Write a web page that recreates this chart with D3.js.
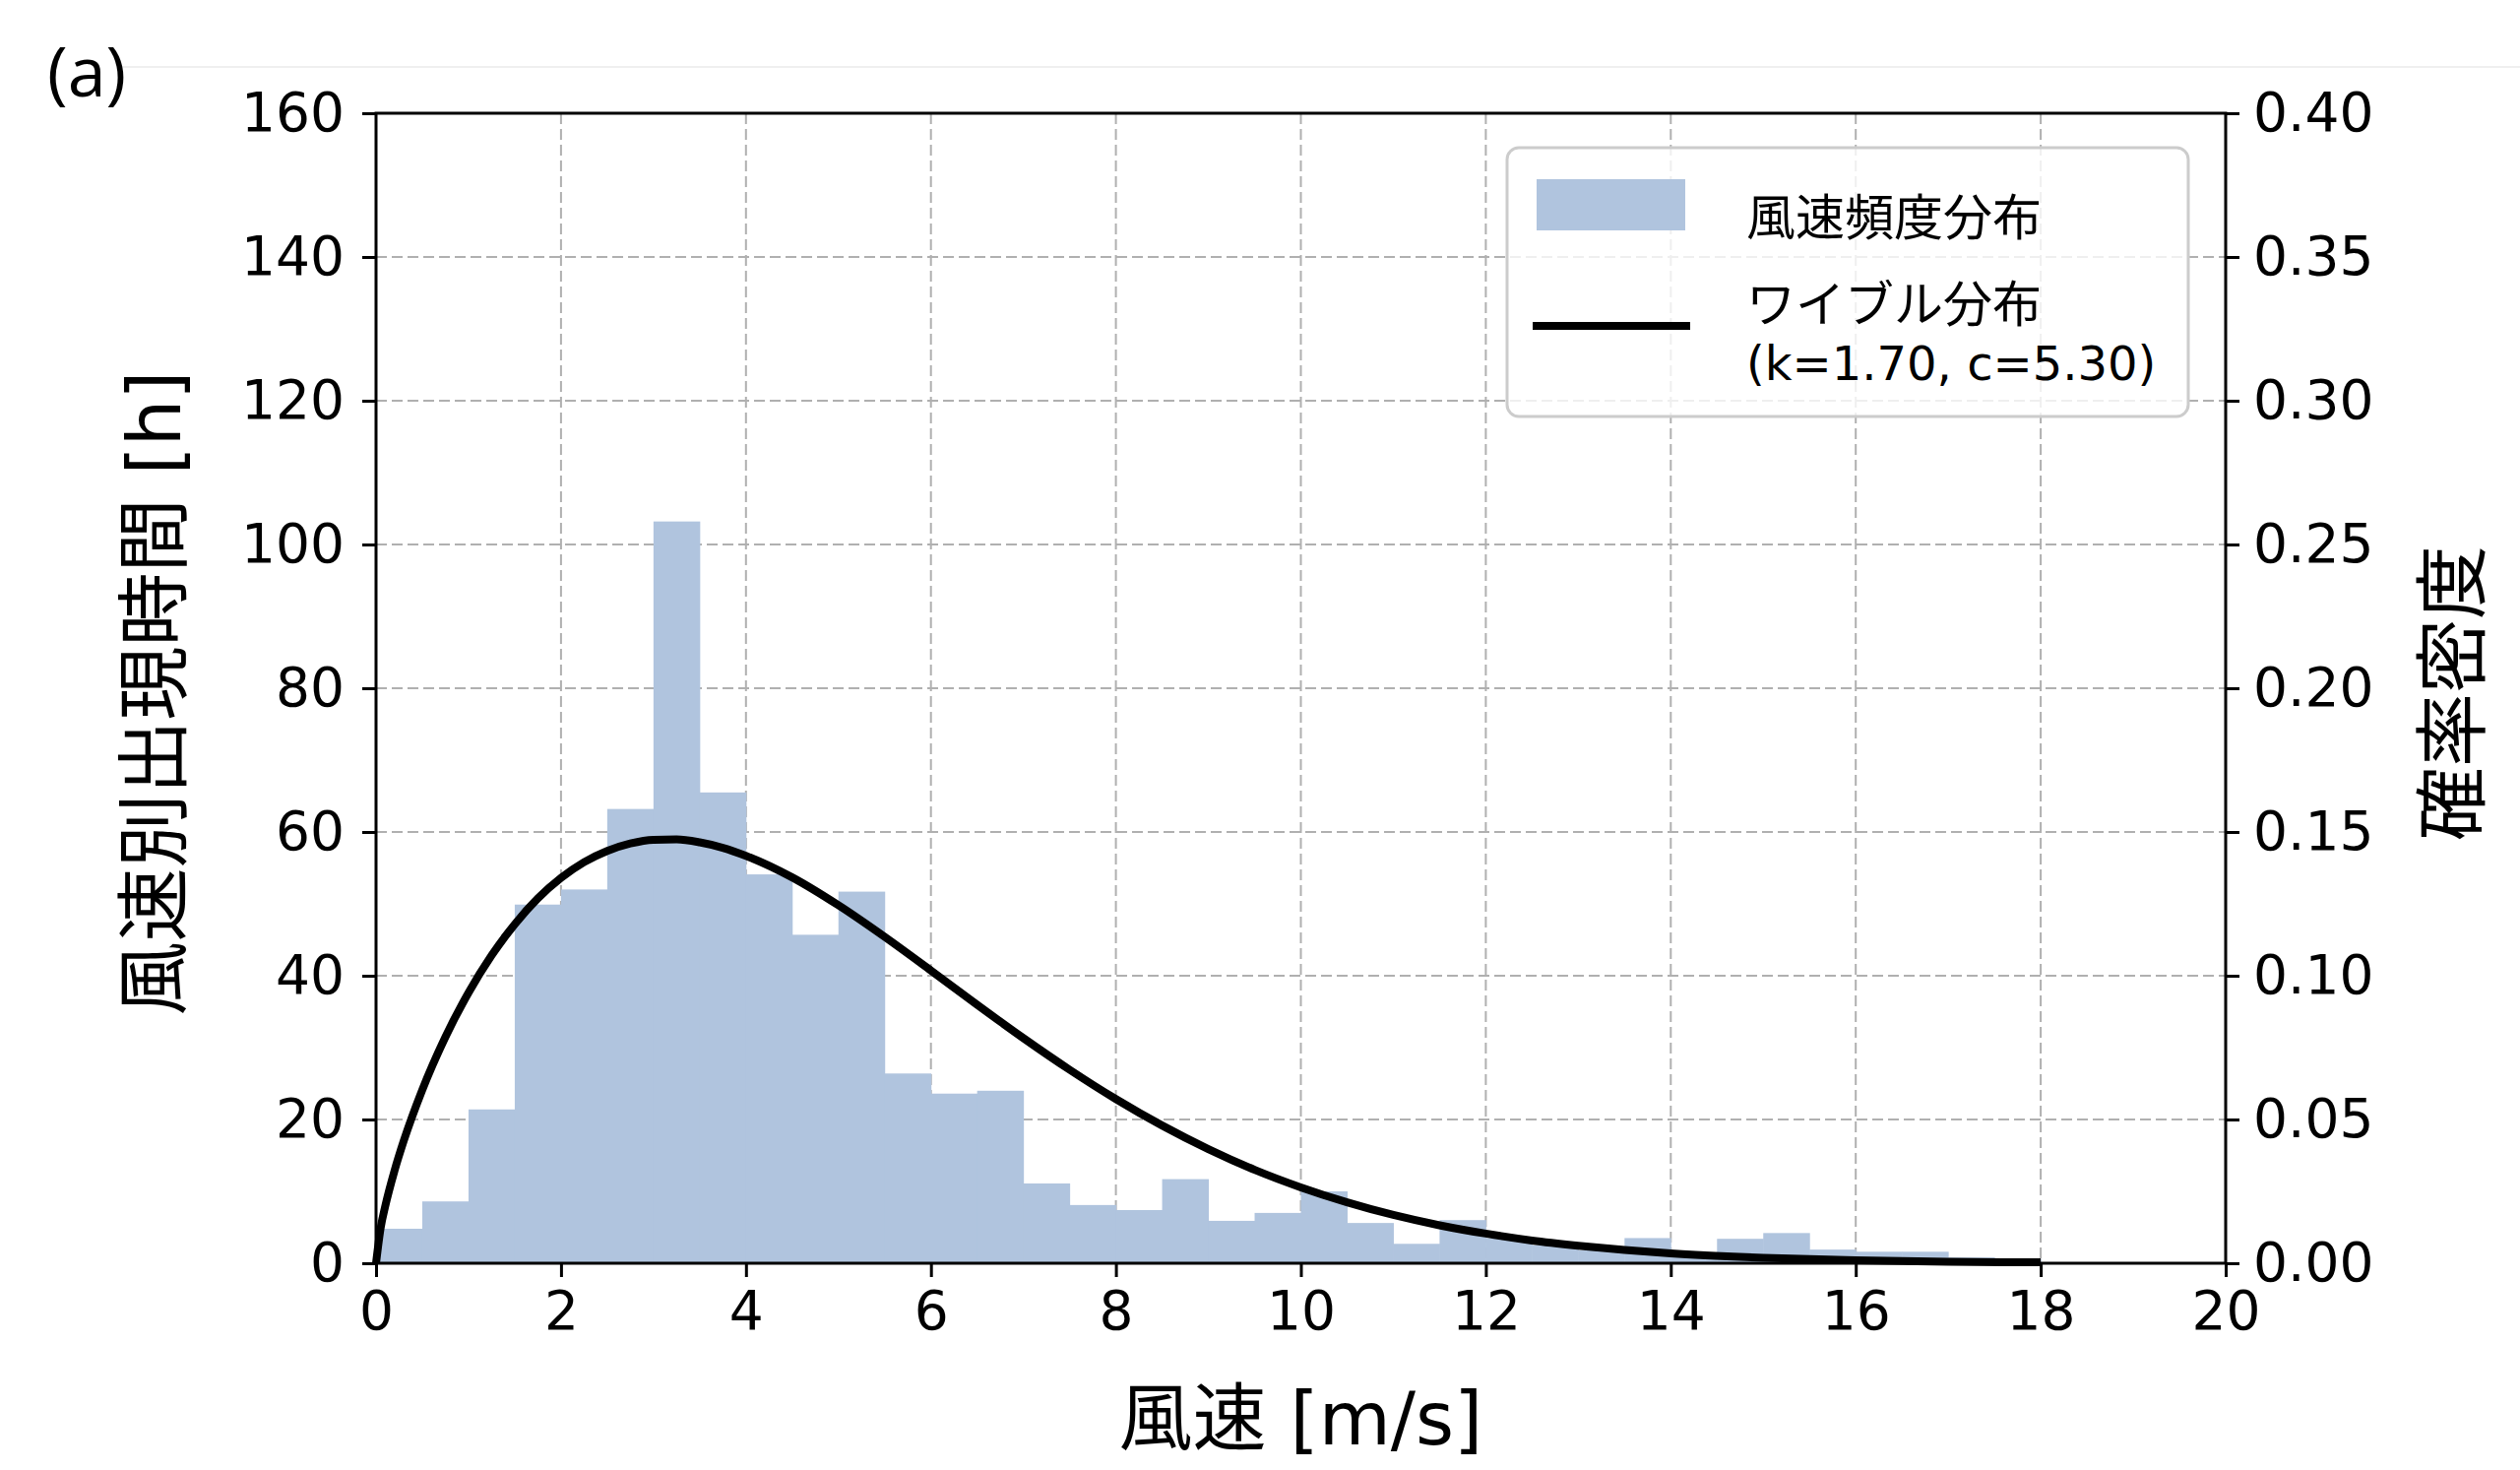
<!DOCTYPE html>
<html>
<head>
<meta charset="utf-8">
<script src="https://cdn.jsdelivr.net/npm/d3@7"></script>
<style>
  body { margin: 0; background: #fff; }
  svg { display: block; }
  text { font-family: "DejaVu Sans", "Noto Sans CJK JP", sans-serif; fill: #000; }
</style>
</head>
<body>
<svg id="chart" width="2560" height="1493"></svg>
<script>
// ---- data ----
const binLeft = [0, 0.5, 1, 1.5, 2, 2.5, 3, 3.5, 4, 4.5, 5, 5.5, 6, 6.5, 7, 7.5, 8, 8.5,
                 9, 9.5, 10, 10.5, 11, 11.5, 12, 12.5, 13, 13.5, 14, 14.5, 15, 15.5, 16, 16.5, 17, 17.5];
const binWidth = 0.5;
const hours = [4.8, 8.6, 21.4, 49.9, 52.0, 63.2, 103.2, 65.5, 54.1, 45.7, 51.7, 26.4, 23.6, 24.0,
               11.1, 8.1, 7.4, 11.7, 5.9, 7.0, 10.0, 5.6, 2.7, 6.0, 3.5, 2.5, 1.8, 3.5, 1.5, 3.4,
               4.2, 1.9, 1.6, 1.6, 0.8, 0.6];
const curveX = [0, 0.05, 0.1, 0.2, 0.3, 0.5, 0.75, 1, 1.25, 1.5, 1.75, 2, 2.25, 2.5, 2.75, 3, 3.25,
                3.5, 3.75, 4, 4.5, 5, 5.5, 6, 6.5, 7, 7.5, 8, 8.5, 9, 9.5, 10, 10.5, 11, 11.5, 12,
                12.5, 13, 13.5, 14, 15, 16, 17, 18];
const curveDensity = [0, 0.0123, 0.0199, 0.0322, 0.0426, 0.0603, 0.0787, 0.0941, 0.1071, 0.1179,
                0.1269, 0.1340, 0.1395, 0.1434, 0.1460, 0.1473, 0.1474, 0.1464, 0.1445, 0.1417,
                0.1342, 0.1245, 0.1135, 0.1018, 0.0899, 0.0783, 0.0673, 0.0571, 0.0479, 0.0397,
                0.0325, 0.0264, 0.0212, 0.0168, 0.0132, 0.0103, 0.0079, 0.0061, 0.0046, 0.0034,
                0.0019, 0.0010, 0.0005, 0.0003];
const xTicks = [0, 2, 4, 6, 8, 10, 12, 14, 16, 18, 20];
const yLeftTicks = [0, 20, 40, 60, 80, 100, 120, 140, 160];
const yRightTicks = [0, 0.05, 0.10, 0.15, 0.20, 0.25, 0.30, 0.35, 0.40];
const labels = {
  panel: "(a)",
  x: "風速 [m/s]",
  yLeft: "風速別出現時間 [h]",
  yRight: "確率密度",
  legendHist: "風速頻度分布",
  legendLine1: "ワイブル分布",
  legendLine2: "(k=1.70, c=5.30)"
};

// ---- layout ----
const L = 382, R = 2261, T = 115, B = 1283;
const svg = d3.select("#chart");
svg.append("rect").attr("width", 2560).attr("height", 1493).attr("fill", "#fff");

const x = d3.scaleLinear().domain([0, 20]).range([L, R]);
const yL = d3.scaleLinear().domain([0, 160]).range([B, T]);
const yR = d3.scaleLinear().domain([0, 0.40]).range([B, T]);

// faint top rule and panel label
svg.append("line").attr("x1", 125).attr("x2", 2560).attr("y1", 68).attr("y2", 68)
  .attr("stroke", "#efefef").attr("stroke-width", 2);
svg.append("text").attr("x", 48).attr("y", 98).attr("font-size", 70)
  .style("font-family", "'Open Sans', sans-serif").text(labels.panel);

// grid
const grid = svg.append("g").attr("stroke", "#b0b0b0").attr("stroke-width", 2)
  .attr("stroke-dasharray", "11,5");
grid.selectAll(".gx").data(xTicks.filter(d => d > 0 && d < 20)).join("line")
  .attr("x1", d => x(d)).attr("x2", d => x(d)).attr("y1", T).attr("y2", B);
grid.selectAll(".gy").data(yLeftTicks.filter(d => d > 0 && d < 160)).join("line")
  .attr("x1", L).attr("x2", R).attr("y1", d => yL(d)).attr("y2", d => yL(d));

// histogram bars
svg.append("g").selectAll("rect").data(binLeft).join("rect")
  .attr("x", d => x(d))
  .attr("width", d => x(d + binWidth) - x(d) + 0.5)
  .attr("y", (d, i) => yL(hours[i]))
  .attr("height", (d, i) => yL(0) - yL(hours[i]))
  .attr("fill", "#b0c4de");

// weibull curve
const line = d3.line().x(d => x(d[0])).y(d => yR(d[1])).curve(d3.curveMonotoneX);
svg.append("path").datum(curveX.map((v, i) => [v, curveDensity[i]]))
  .attr("d", line).attr("fill", "none").attr("stroke", "#000").attr("stroke-width", 8)
  .attr("stroke-linejoin", "round");

// axes
function styleAxis(g) {
  g.select(".domain").remove();
  g.selectAll(".tick line").attr("stroke", "#000").attr("stroke-width", 3);
  g.selectAll(".tick text").attr("font-size", 55).attr("fill", "#000")
    .style("font-family", "'DejaVu Sans', sans-serif");
}
svg.append("g").attr("transform", `translate(0,${B})`)
  .call(d3.axisBottom(x).tickValues(xTicks).tickFormat(d3.format("d")).tickSize(14).tickPadding(14))
  .call(styleAxis);
svg.append("g").attr("transform", `translate(${L},0)`)
  .call(d3.axisLeft(yL).tickValues(yLeftTicks).tickFormat(d3.format("d")).tickSize(14).tickPadding(18))
  .call(styleAxis);
svg.append("g").attr("transform", `translate(${R},0)`)
  .call(d3.axisRight(yR).tickValues(yRightTicks).tickFormat(d3.format(".2f")).tickSize(14).tickPadding(14))
  .call(styleAxis);

// spines
svg.append("rect").attr("x", L).attr("y", T).attr("width", R - L).attr("height", B - T)
  .attr("fill", "none").attr("stroke", "#000").attr("stroke-width", 3);

// axis titles
svg.append("text").attr("x", (L + R) / 2).attr("y", 1441).attr("text-anchor", "middle")
  .attr("dominant-baseline", "central").attr("font-size", 75).text(labels.x);
svg.append("text").attr("transform", `translate(157,${(T + B) / 2 + 5}) rotate(-90)`)
  .attr("text-anchor", "middle").attr("dominant-baseline", "central").attr("font-size", 75)
  .text(labels.yLeft);
svg.append("text").attr("transform", `translate(2492,${(T + B) / 2 + 5}) rotate(-90)`)
  .attr("text-anchor", "middle").attr("dominant-baseline", "central").attr("font-size", 75)
  .text(labels.yRight);

// legend
const lg = svg.append("g");
lg.append("rect").attr("x", 1531).attr("y", 150).attr("width", 692).attr("height", 273)
  .attr("rx", 12).attr("fill", "#fff").attr("fill-opacity", 0.8)
  .attr("stroke", "#cccccc").attr("stroke-width", 3);
lg.append("rect").attr("x", 1561).attr("y", 182).attr("width", 151).attr("height", 52).attr("fill", "#b0c4de");
lg.append("line").attr("x1", 1557).attr("x2", 1717).attr("y1", 331).attr("y2", 331)
  .attr("stroke", "#000").attr("stroke-width", 8);
lg.append("text").attr("x", 1774).attr("y", 222).attr("dominant-baseline", "central")
  .attr("font-size", 50).text(labels.legendHist);
lg.append("text").attr("x", 1774).attr("y", 310).attr("dominant-baseline", "central")
  .attr("font-size", 50).text(labels.legendLine1);
lg.append("text").attr("x", 1774).attr("y", 369).attr("dominant-baseline", "central")
  .attr("font-size", 48).text(labels.legendLine2);
</script>
</body>
</html>
